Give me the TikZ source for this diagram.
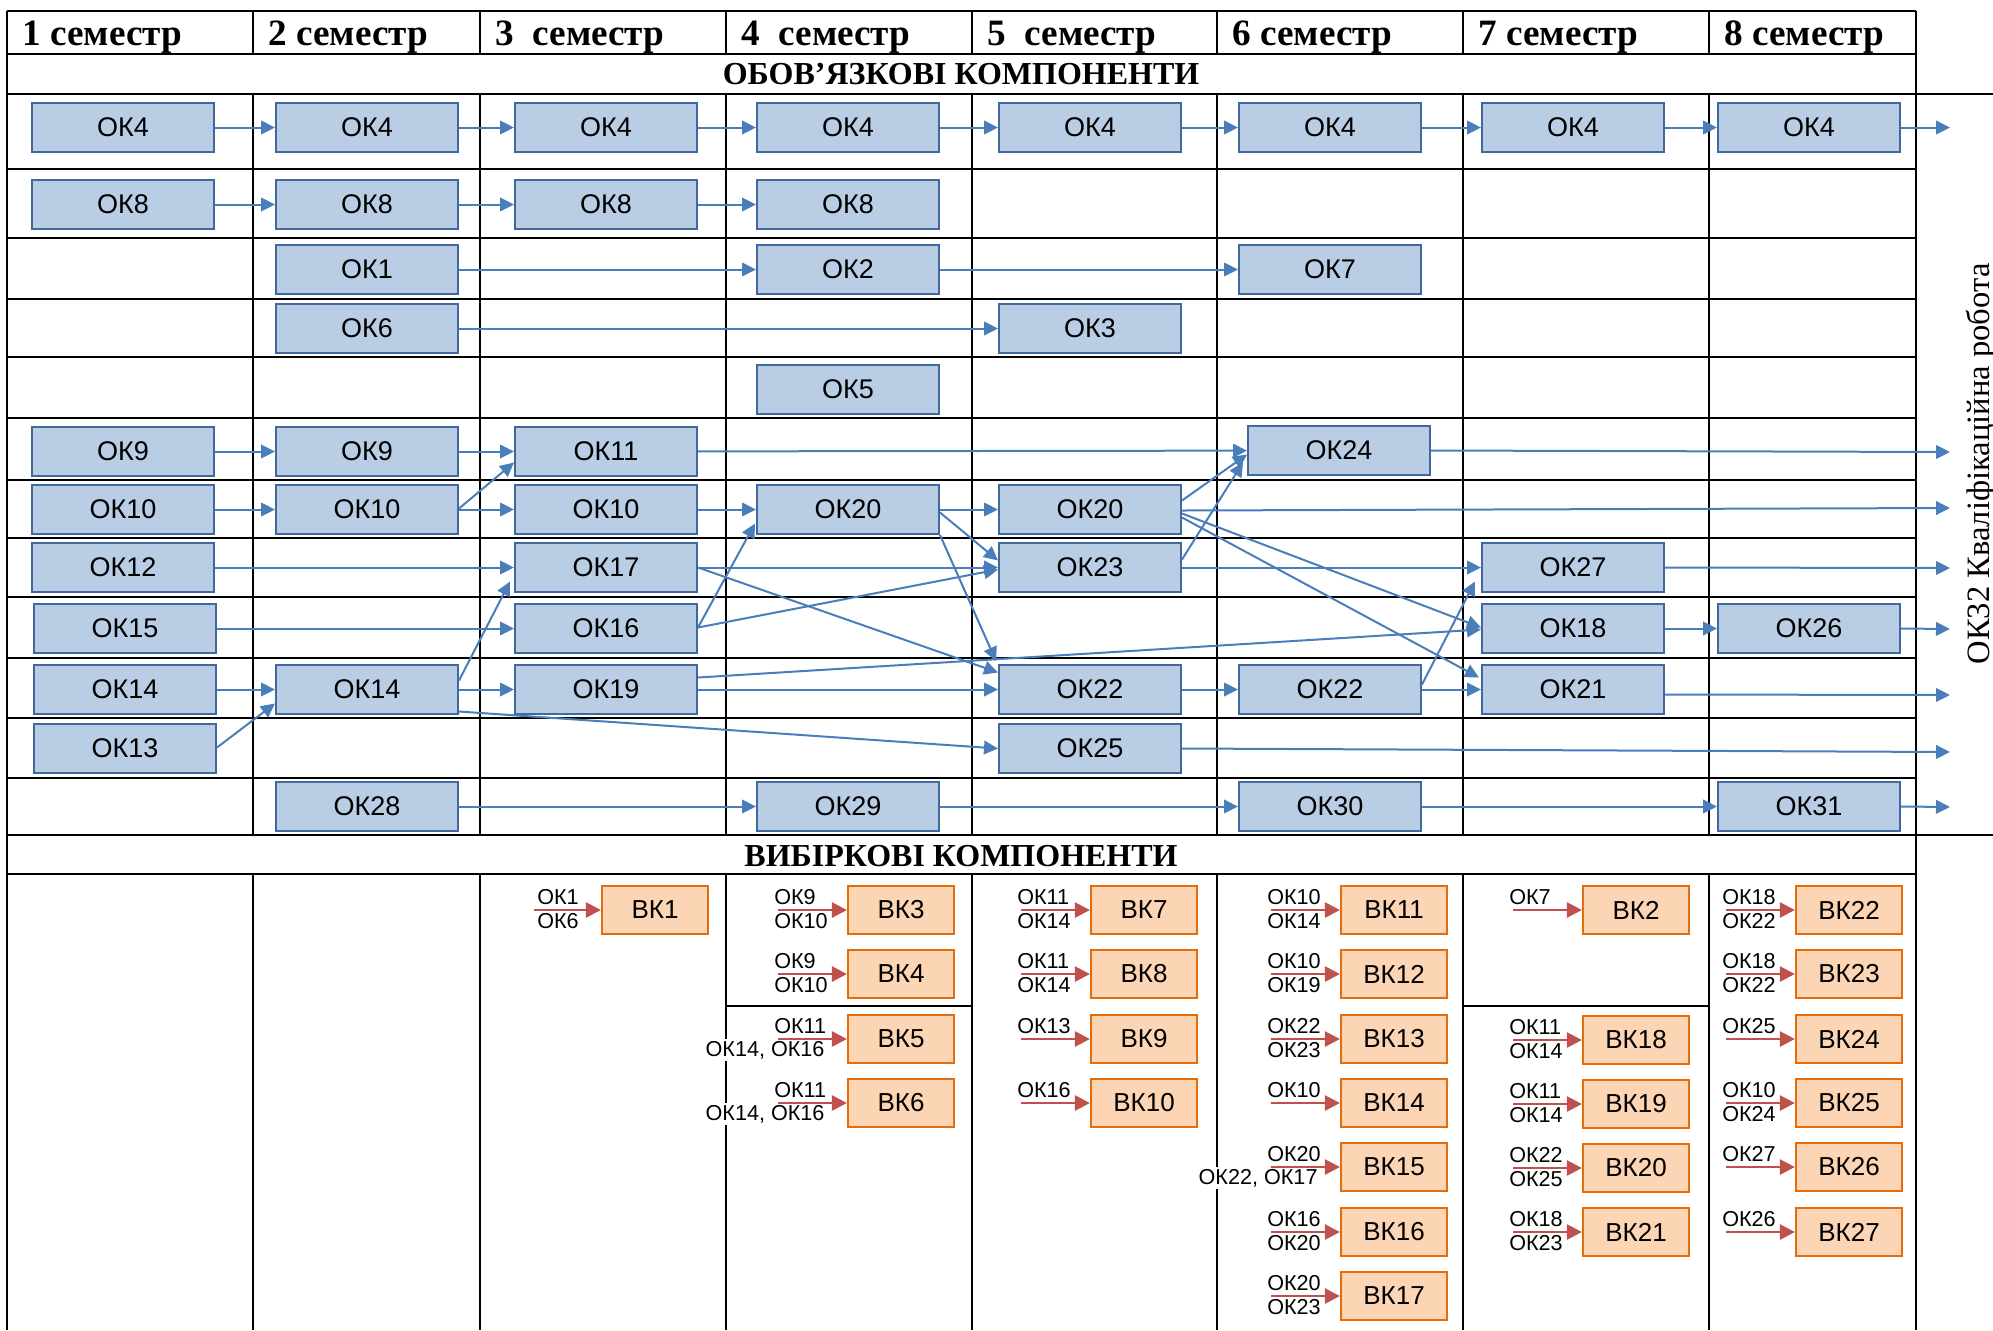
\documentclass[tikz,border=0pt]{standalone}
\usepackage{fontspec}
\setmainfont{Liberation Serif}
\newfontfamily\arialf{Liberation Sans}
\usetikzlibrary{arrows.meta,calc}
\definecolor{okfill}{RGB}{185,205,229}
\definecolor{okdraw}{RGB}{65,105,160}
\definecolor{arrblue}{RGB}{74,126,187}
\definecolor{bkfill}{RGB}{252,213,181}
\definecolor{bkdraw}{RGB}{228,108,10}
\definecolor{arrred}{RGB}{192,80,77}
\newcommand\bkitem[6]{%
  \node[bk] (#1) at (#2,#3) {#4};
  \node[lbl,anchor=west] (#1u) at ($(#1.west)+(-73,-13)$) {#5};
  \node[lbl,anchor=west] (#1d) at ($(#1.west)+(-73,11)$) {#6};
  \coordinate (#1s) at ($(#1.west)+(-69,0)$);
  \draw[rcon] (#1s) -- (#1.west);}
\newcommand\bkitemw[6]{%
  \node[bk] (#1) at (#2,#3) {#4};
  \node[lbl,anchor=west] (#1u) at ($(#1.west)+(-73,-13)$) {#5};
  \node[lbl,anchor=east,fill=white,inner sep=1pt] (#1d) at ($(#1.west)+(-20,11)$) {#6};
  \coordinate (#1s) at ($(#1.west)+(-69,0)$);
  \draw[rcon] (#1s) -- (#1.west);}
\begin{document}
\begin{tikzpicture}[x=0.5pt,y=-0.5pt,
 ok/.style={draw=okdraw,fill=okfill,line width=1pt,minimum width=91pt,minimum height=24.5pt,inner sep=0pt,font=\arialf\fontsize{13.5}{14}\selectfont},
 bk/.style={draw=bkdraw,fill=bkfill,line width=1.1pt,minimum width=53pt,minimum height=24pt,inner sep=0pt,font=\arialf\fontsize{13}{14}\selectfont},
 lbl/.style={inner sep=0pt,font=\arialf\fontsize{10.8}{11}\selectfont},
 con/.style={draw=arrblue,line width=1pt,-{Triangle[length=7pt,width=6.8pt]}},
 rcon/.style={draw=arrred,line width=1.3pt,-{Triangle[length=7.5pt,width=7.5pt]}},
 grid/.style={line width=1.2pt,black},
 sem/.style={anchor=base west,inner sep=0pt,font=\bfseries\fontsize{18.6}{20}\selectfont},
 ttl/.style={anchor=base,inner sep=0pt,font=\bfseries\fontsize{16}{17}\selectfont}]
\useasboundingbox (0,0) rectangle (1993,1330);
% ---------- grid ----------
\foreach \yy in {11,54,169,238,299,357,418,480,538,597,658,718,778,874}
  \draw[grid] (7,\yy) -- (1916,\yy);
\draw[grid] (7,94) -- (1993,94);
\draw[grid] (7,835) -- (1993,835);
\draw[grid] (7,11) -- (7,1330);
\draw[grid] (1916,11) -- (1916,1330);
\foreach \xx in {253,480,726,972,1217,1463,1709} {
  \draw[grid] (\xx,11) -- (\xx,54);
  \draw[grid] (\xx,94) -- (\xx,835);
  \draw[grid] (\xx,874) -- (\xx,1330);
}
\draw[grid] (726,1006) -- (972,1006);
\draw[grid] (1463,1006) -- (1709,1006);
% ---------- headers ----------
\node[sem] (s1) at (22,45) {1 семестр};
\node[sem] (s2) at (268,45) {2 семестр};
\node[sem] (s3) at (495,45) {3~~семестр};
\node[sem] (s4) at (741,45) {4~~семестр};
\node[sem] (s5) at (987,45) {5~~семестр};
\node[sem] (s6) at (1232,45) {6 семестр};
\node[sem] (s7) at (1478,45) {7 семестр};
\node[sem] (s8) at (1724,45) {8 семестр};
\node[ttl] (t1) at (961,84) {ОБОВ’ЯЗКОВІ КОМПОНЕНТИ};
\node[ttl] (t2) at (961,866) {ВИБІРКОВІ КОМПОНЕНТИ};
\node[rotate=90,anchor=base,inner sep=0pt,font=\fontsize{16.3}{17}\selectfont] (vt) at (1989,464) {ОК32 Кваліфікаційна робота};
% ---------- OK boxes ----------
\node[ok] (a1) at (123,127.5) {ОК4};
\node[ok] (a2) at (367,127.5) {ОК4};
\node[ok] (a3) at (606,127.5) {ОК4};
\node[ok] (a4) at (848,127.5) {ОК4};
\node[ok] (a5) at (1090,127.5) {ОК4};
\node[ok] (a6) at (1330,127.5) {ОК4};
\node[ok] (a7) at (1573,127.5) {ОК4};
\node[ok] (a8) at (1809,127.5) {ОК4};
\node[ok] (b1) at (123,204.5) {ОК8};
\node[ok] (b2) at (367,204.5) {ОК8};
\node[ok] (b3) at (606,204.5) {ОК8};
\node[ok] (b4) at (848,204.5) {ОК8};
\node[ok] (c2) at (367,269.5) {ОК1};
\node[ok] (c4) at (848,269.5) {ОК2};
\node[ok] (c6) at (1330,269.5) {ОК7};
\node[ok] (d2) at (367,328.5) {ОК6};
\node[ok] (d5) at (1090,328.5) {ОК3};
\node[ok] (e4) at (848,389.5) {ОК5};
\node[ok] (f1) at (123,451.5) {ОК9};
\node[ok] (f2) at (367,451.5) {ОК9};
\node[ok] (f3) at (606,451.5) {ОК11};
\node[ok] (f6) at (1339,450.5) {ОК24};
\node[ok] (g1) at (123,509.5) {ОК10};
\node[ok] (g2) at (367,509.5) {ОК10};
\node[ok] (g3) at (606,509.5) {ОК10};
\node[ok] (g4) at (848,509.5) {ОК20};
\node[ok] (g5) at (1090,509.5) {ОК20};
\node[ok] (h1) at (123,567.5) {ОК12};
\node[ok] (h3) at (606,567.5) {ОК17};
\node[ok] (h5) at (1090,567.5) {ОК23};
\node[ok] (h7) at (1573,567.5) {ОК27};
\node[ok] (i1) at (125,628.5) {ОК15};
\node[ok] (i3) at (606,628.5) {ОК16};
\node[ok] (i7) at (1573,628.5) {ОК18};
\node[ok] (i8) at (1809,628.5) {ОК26};
\node[ok] (j1) at (125,689.5) {ОК14};
\node[ok] (j2) at (367,689.5) {ОК14};
\node[ok] (j3) at (606,689.5) {ОК19};
\node[ok] (j5) at (1090,689.5) {ОК22};
\node[ok] (j6) at (1330,689.5) {ОК22};
\node[ok] (j7) at (1573,689.5) {ОК21};
\node[ok] (k1) at (125,748.5) {ОК13};
\node[ok] (k5) at (1090,748.5) {ОК25};
\node[ok] (l2) at (367,806.5) {ОК28};
\node[ok] (l4) at (848,806.5) {ОК29};
\node[ok] (l6) at (1330,806.5) {ОК30};
\node[ok] (l8) at (1809,806.5) {ОК31};
% ---------- end coordinates ----------
\coordinate (ea) at (1950,127.5);
\coordinate (ef) at (1950,452);
\coordinate (eg) at (1950,508);
\coordinate (eh) at (1950,568);
\coordinate (ei) at (1950,629);
\coordinate (ej) at (1950,695);
\coordinate (ek) at (1950,752);
\coordinate (el) at (1950,807);
% ---------- horizontal connectors ----------
\foreach \p/\q in {a1/a2,a2/a3,a3/a4,a4/a5,a5/a6,a6/a7,a7/a8,
  b1/b2,b2/b3,b3/b4,c2/c4,c4/c6,d2/d5,f1/f2,f2/f3,f3/f6,
  g1/g2,g2/g3,g3/g4,g4/g5,h1/h3,h3/h5,h5/h7,i1/i3,i7/i8,
  j1/j2,j2/j3,j3/j5,j5/j6,j6/j7,l2/l4,l4/l6,l6/l8}
  \draw[con] (\p) -- (\q);
\draw[con] (a8) -- (ea);
\draw[con] (f6.east) -- (ef);
\draw[con] ($(g5.east)+(0,1)$) -- (eg);
\draw[con] (h7.east) -- (eh);
\draw[con] (i8.east) -- (ei);
\draw[con] ($(j7.east)+(0,5)$) -- (ej);
\draw[con] (k5.east) -- (ek);
\draw[con] (l8.east) -- (el);
% ---------- diagonal connectors ----------
\draw[con] ($(g2.east)+(0,-1)$) -- ($(f3.west)+(0,11)$);
\draw[con] ($(k1.east)+(0,-1)$) -- ($(j2.west)+(0,14)$);
\draw[con] ($(j2.east)+(0,-9)$) -- ($(h3.west)+(-4,14)$);
\draw[con] ($(j2.east)+(0,22)$) -- (k5.west);
\draw[con] ($(i3.east)+(0,-1)$) -- ($(g4.west)+(-1,14)$);
\draw[con] ($(i3.east)+(0,-1)$) -- ($(h5.west)+(0,2)$);
\draw[con] (h3.east) -- ($(j5.west)+(0,-17)$);
\draw[con] ($(g4.east)+(0,3)$) -- ($(h5.west)+(0,-7)$);
\draw[con] (g4.south east) -- ($(j5.north west)+(-2,-3)$);
\draw[con] ($(j3.east)+(0,-12)$) -- ($(i7.west)+(0,1)$);
\draw[con] ($(g5.east)+(0,-9)$) -- ($(f6.west)+(0,4)$);
\draw[con] ($(h5.east)+(0,-8)$) -- ($(f6.west)+(-4,12)$);
\draw[con] ($(g5.east)+(0,4)$) -- ($(i7.west)+(0,-1)$);
\draw[con] ($(g5.east)+(0,8)$) -- ($(j7.west)+(-2,-12)$);
\draw[con] ($(j6.east)+(0,-5)$) -- ($(h7.west)+(-6,14)$);
% ---------- BK boxes ----------
\node[bk] (bk1) at (655,910) {ВК1};
\node[lbl,anchor=west] (bk1u) at ($(bk1.west)+(-64,-13)$) {ОК1};
\node[lbl,anchor=west] (bk1d) at ($(bk1.west)+(-64,11)$) {ОК6};
\coordinate (bk1s) at ($(bk1.west)+(-67,0)$);
\draw[rcon] (bk1s) -- (bk1.west);
\bkitem{bk3}{901}{910}{ВК3}{ОК9}{ОК10}
\bkitem{bk4}{901}{974}{ВК4}{ОК9}{ОК10}
\bkitemw{bk5}{901}{1039}{ВК5}{ОК11}{ОК14, ОК16}
\bkitemw{bk6}{901}{1103}{ВК6}{ОК11}{ОК14, ОК16}
\bkitem{bk7}{1144}{910}{ВК7}{ОК11}{ОК14}
\bkitem{bk8}{1144}{974}{ВК8}{ОК11}{ОК14}
\bkitem{bk9}{1144}{1039}{ВК9}{ОК13}{}
\bkitem{bk10}{1144}{1103}{ВК10}{ОК16}{}
\bkitem{bk11}{1394}{910}{ВК11}{ОК10}{ОК14}
\bkitem{bk12}{1394}{974}{ВК12}{ОК10}{ОК19}
\bkitem{bk13}{1394}{1039}{ВК13}{ОК22}{ОК23}
\bkitem{bk14}{1394}{1103}{ВК14}{ОК10}{}
\bkitemw{bk15}{1394}{1167}{ВК15}{ОК20}{ОК22, ОК17}
\bkitem{bk16}{1394}{1232}{ВК16}{ОК16}{ОК20}
\bkitem{bk17}{1394}{1296}{ВК17}{ОК20}{ОК23}
\bkitem{bk2}{1636}{910}{ВК2}{ОК7}{}
\bkitem{bk18}{1636}{1040}{ВК18}{ОК11}{ОК14}
\bkitem{bk19}{1636}{1104}{ВК19}{ОК11}{ОК14}
\bkitem{bk20}{1636}{1168}{ВК20}{ОК22}{ОК25}
\bkitem{bk21}{1636}{1232}{ВК21}{ОК18}{ОК23}
\bkitem{bk22}{1849}{910}{ВК22}{ОК18}{ОК22}
\bkitem{bk23}{1849}{974}{ВК23}{ОК18}{ОК22}
\bkitem{bk24}{1849}{1039}{ВК24}{ОК25}{}
\bkitem{bk25}{1849}{1103}{ВК25}{ОК10}{ОК24}
\bkitem{bk26}{1849}{1167}{ВК26}{ОК27}{}
\bkitem{bk27}{1849}{1232}{ВК27}{ОК26}{}
\end{tikzpicture}
\end{document}
